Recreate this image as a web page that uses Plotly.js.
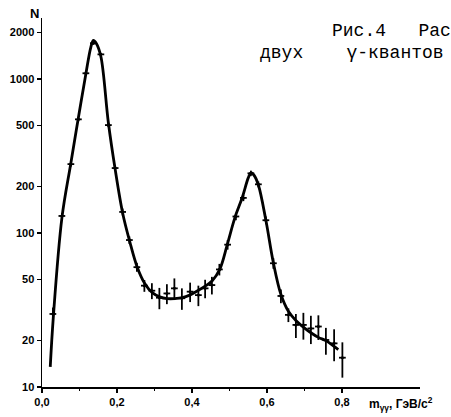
<!DOCTYPE html>
<html>
<head>
<meta charset="utf-8">
<script src="https://cdn.plot.ly/plotly-3.0.1.min.js"></script>
<style>html,body{margin:0;padding:0;background:#fff;overflow:hidden}</style>
</head>
<body>
<div id="chart" style="width:451px;height:417px"></div>
<script>
// Measured points (m_gg in GeV/c^2, counts N) with statistical errors
const massX = [0.029,0.053,0.077,0.097,0.117,0.137,0.157,0.177,0.195,0.215,0.233,0.253,
  0.273,0.293,0.313,0.333,0.353,0.373,0.395,0.417,0.435,0.453,0.473,0.495,0.517,0.537,
  0.557,0.577,0.597,0.617,0.637,0.657,0.677,0.697,0.717,0.737,0.757,0.779,0.801];
const countsN = [29.8,129,280,547,1089,1706,1445,502,264,137,90,60,
  45.5,42.2,38,40.5,43.7,37.7,41.6,39.5,43.7,45.9,58,84,128,169,
  244,207,121,63.6,39,29.4,25.3,25.3,24,24.7,20.2,19.2,15.5];
const errN = [3,6,10,15,25,35,30,15,9,7,5,4,
  4,5,6,6,7,6,6,6,6,6,5,6,7,8,
  10,9,7,5,4,3,4.5,5,5,4.5,4,4.5,4];
// Fitted curve
const fitX = [0.022,0.03,0.053,0.077,0.097,0.117,0.13,0.137,0.145,0.157,0.177,0.195,0.215,
  0.234,0.254,0.274,0.294,0.314,0.334,0.354,0.374,0.394,0.414,0.434,0.454,0.474,0.494,
  0.514,0.534,0.55,0.557,0.565,0.577,0.597,0.617,0.637,0.657,0.677,0.697,0.717,0.737,0.757,0.777,0.79];
const fitY = [13.5,28,125,285,560,1080,1600,1780,1700,1400,520,260,135,
  88,60,47,41,38.5,37.5,37.5,38,39.5,42,45,49,58,84,
  125,170,228,246,238,205,121,64,40,31,27,24.5,22.5,21,20,18.5,17.5];
const yTickVals = [10,20,50,100,200,500,1000,2000];
const yTickText = ['10','20','50','100','200','500','1000','2000'];
const xTickVals = [0,0.2,0.4,0.6,0.8];
const xTickText = ['0,0','0,2','0,4','0,6','0,8'];

const tickFont = {family: 'Liberation Sans, Arial, sans-serif', size: 11, color: '#000', weight: 'bold'};

const traces = [
  {
    x: fitX, y: fitY, type: 'scatter', mode: 'lines',
    line: {color: '#000', width: 2.8, shape: 'spline', smoothing: 1},
    hoverinfo: 'skip'
  },
  {
    x: massX, y: countsN, type: 'scatter', mode: 'markers',
    marker: {size: 3, color: '#000'},
    error_y: {type: 'data', array: errN, visible: true, color: '#000', thickness: 1.8, width: 0},
    error_x: {type: 'constant', value: 0.009, visible: true, color: '#000', thickness: 1.8, width: 0}
  }
];

const layout = {
  width: 451, height: 417,
  margin: {l: 42, r: 31, t: 18, b: 30},
  paper_bgcolor: '#fff', plot_bgcolor: '#fff',
  showlegend: false,
  xaxis: {
    range: [0, 1.008], showgrid: false, zeroline: false,
    showline: true, linecolor: '#000', linewidth: 1.5,
    ticks: 'outside', ticklen: 4, tickwidth: 1.5, tickcolor: '#000',
    tickvals: xTickVals, ticktext: xTickText, tickfont: tickFont,
    minor: {tickvals: [0.1,0.3,0.5,0.7], ticks: 'outside', ticklen: 2, tickcolor: '#000'}
  },
  yaxis: {
    type: 'log', range: [1, 3.396], showgrid: false, zeroline: false,
    showline: true, linecolor: '#000', linewidth: 1.5,
    ticks: 'outside', ticklen: 4, tickwidth: 1.5, tickcolor: '#000',
    tickvals: yTickVals, ticktext: yTickText, tickfont: tickFont
  },
  annotations: [
    {text: 'N', xref: 'paper', yref: 'paper', x: -0.021, y: 1.012, xanchor: 'center', yanchor: 'middle',
     showarrow: false, font: {family: 'Liberation Sans, Arial, sans-serif', size: 13, color: '#000', weight: 'bold'}},
    {text: 'm<sub>γγ</sub>, ГэВ/c<sup>2</sup>', xref: 'paper', yref: 'paper', x: 0.86, y: -0.045,
     xanchor: 'left', yanchor: 'middle', showarrow: false,
     font: {family: 'Liberation Sans, Arial, sans-serif', size: 12, color: '#000', weight: 'bold'}},
    {text: 'Рис.4   Рас', xref: 'paper', yref: 'paper', x: 0.762, y: 0.966, xanchor: 'left', yanchor: 'middle',
     showarrow: false, font: {family: 'Liberation Mono, monospace', size: 18, color: '#000'}},
    {text: 'двух    γ-квантов', xref: 'paper', yref: 'paper', x: 0.571, y: 0.906, xanchor: 'left', yanchor: 'middle',
     showarrow: false, font: {family: 'Liberation Mono, monospace', size: 18, color: '#000'}}
  ]
};

Plotly.newPlot('chart', traces, layout, {displayModeBar: false, staticPlot: true});
</script>
</body>
</html>
